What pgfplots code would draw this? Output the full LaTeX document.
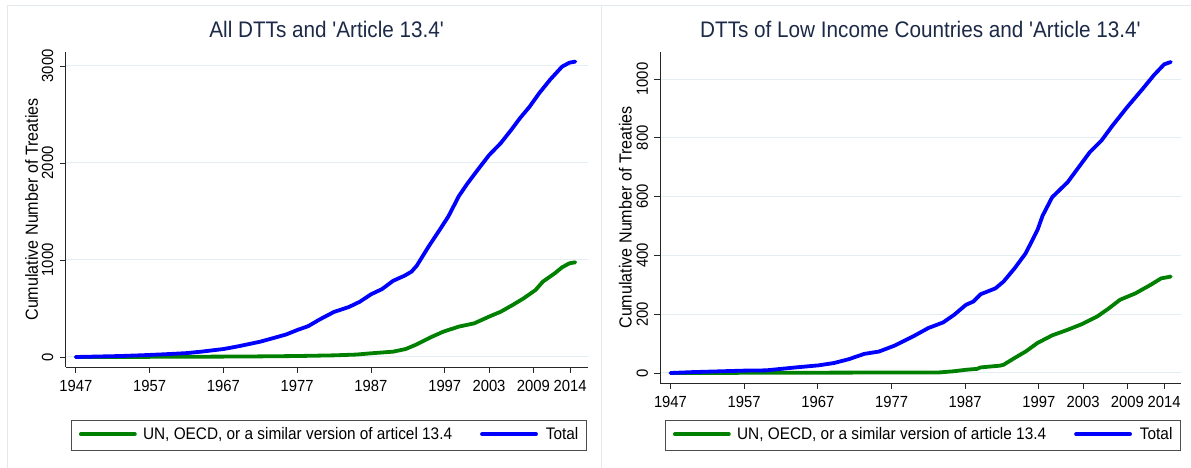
\documentclass[border=0pt]{standalone}
\usepackage{fontspec}
\setmainfont{Liberation Sans}[FakeStretch=0.92, Ligatures=TeXOff]
\usepackage{pgfplots}
\pgfplotsset{compat=1.18}

\definecolor{sgreen}{RGB}{0,128,0}
\definecolor{sblue}{RGB}{0,0,255}
\definecolor{titlec}{RGB}{28,42,72}
\definecolor{gridc}{RGB}{228,237,241}
\definecolor{framec}{RGB}{226,234,237}

\newcommand\ticksize{\fontsize{16.1bp}{19bp}\selectfont}
\newcommand\legsize{\fontsize{16.7bp}{19bp}\selectfont}
\newcommand\labsize{\fontsize{17.5bp}{20bp}\selectfont}
\newcommand\titlesize{\fontsize{22.5bp}{26bp}\selectfont}

\pgfplotsset{
  dtt/.style={
    scale only axis,
    anchor=south west,
    axis x line*=bottom, axis y line*=left,
    axis line style={-, black!85, line width=0.9bp},
    tick align=outside, major tick length=6bp,
    every tick/.style={black!85, line width=0.9bp},
    xmin=1945.64, xmax=2016.35,
    xtick={1947,1957,1967,1977,1987,1997,2003,2009,2014},
    xticklabels={1947,1957,1967,1977,1987,1997,2003,2009,2014},
    ymajorgrids, grid style={gridc, line width=1bp},
    xticklabel style={font=\ticksize, anchor=north, inner sep=0pt, yshift=-6.9bp},
    yticklabel style={font=\ticksize, xshift=-6.2bp, rotate=90, anchor=south, inner sep=0pt},
    title style={font=\titlesize, text=titlec, anchor=base, at={(0.5,1)}, yshift=8.7bp},
    ylabel style={font=\labsize, rotate=0, anchor=center},
    legend columns=2,
    legend cell align=left,
    legend image code/.code={\draw[#1] (0bp,5.3bp) -- (54bp,5.3bp);},
    legend style={anchor=north west, draw=black!70, line width=0.9bp, fill=white,
      inner xsep=7.7bp, inner ysep=7bp, font=\legsize,
      nodes={inner sep=0pt, text height=12bp, text depth=3.5bp, anchor=base west},
      /tikz/column 1/.style={column sep=6.3bp},
      /tikz/column 2/.style={column sep=28bp},
      /tikz/column 3/.style={column sep=8bp}},
    every axis plot/.append style={line width=3.8bp, line join=round, line cap=round},
  }
}

\begin{document}
\begin{tikzpicture}[x=1bp,y=1bp]
\useasboundingbox (0,0) rectangle (1191,468);
\fill[white] (0,0) rectangle (1191,468);
\draw[framec, line width=1bp] (7,0) |- (1191,462);
\draw[framec, line width=1bp] (601.7,0) -- (601.7,462);

% left panel: all treaties
\begin{axis}[dtt,
  at={(65.8bp,101bp)}, width=521.7bp, height=315bp,
  ymin=-103, ymax=3144,
  ytick={0,1000,2000,3000}, yticklabels={0,1000,2000,3000},
  title={All DTTs and 'Article 13.4'},
  ylabel={Cumulative Number of Treaties},
  ylabel style={at={(axis description cs:-0.0657,0.5)}},
  legend style={at={(axis description cs:0.0096,-0.1683)}},
]
\addplot[sgreen] coordinates {
 (1947,0)(1960,2)(1970,5)(1977,10)(1982,17)(1985,25)(1987,38)(1990,55)
 (1991.7,82)(1993.2,130)(1995.3,210)(1996.8,261)(1998.9,313)(2001,347)
 (2003,416)(2004.6,467)(2006.2,536)(2007.7,605)(2009.3,690)(2010.3,777)
 (2011.9,862)(2012.9,924)(2013.9,966)(2014.7,976)
};
\addlegendentry{UN, OECD, or a similar version of articel 13.4}
\addplot[sblue] coordinates {
 (1947,0)(1950,5)(1953,10)(1956,18)(1959,28)(1962,40)(1964,55)(1967,82)
 (1969,110)(1972,158)(1974,200)(1975.5,232)(1977,278)(1978.5,318)(1980,385)
 (1982,465)(1984,515)(1985.5,570)(1987,646)(1988.5,700)(1990,785)(1991.6,840)
 (1992.5,880)(1993.2,940)(1994.8,1137)(1996.3,1309)(1997.5,1450)(1998.9,1657)(2000,1780)
 (2001.5,1932)(2003,2080)(2004.6,2205)(2006,2340)(2007.2,2462)(2008.5,2580)
 (2009.8,2719)(2011.3,2860)(2012.9,2993)(2013.9,3034)(2014.7,3045)
};
\addlegendentry{Total}
\end{axis}

% right panel: low income countries
\begin{axis}[dtt,
  at={(660.3bp,85bp)}, width=520.2bp, height=331bp,
  xmin=1945.62, xmax=2016.22,
  ymin=-34, ymax=1092,
  ytick={0,200,400,600,800,1000}, yticklabels={0,200,400,600,800,1000},
  title={DTTs of Low Income Countries and 'Article 13.4'},
  ylabel={Cumulative Number of Treaties},
  ylabel style={at={(axis description cs:-0.0671,0.5)}},
  legend style={at={(axis description cs:0.0087,-0.1118)}},
]
\addplot[sgreen] coordinates {
 (1947,0)(1983.5,2)(1985.5,6)(1987.1,11)(1988.6,14)(1989.1,19)(1991.7,25)
 (1992.2,28)(1993.7,51)(1995.2,73)(1996.8,102)(1998.8,128)(2000.9,147)
 (2002.9,167)(2004.9,192)(2006.5,220)(2008,249)(2010.1,271)(2012.1,299)
 (2013.6,322)(2014.9,328)
};
\addlegendentry{UN, OECD, or a similar version of article 13.4}
\addplot[sblue] coordinates {
 (1947,0)(1950,3)(1956.9,8)(1960,9)(1962,14)(1964,19)(1967.1,26)(1969.2,34)
 (1971.2,47)(1973.3,65)(1975.3,73)(1977.4,93)(1979.9,124)(1982,153)(1984,172)
 (1985.5,198)(1987.1,232)(1988.1,243)(1989.1,268)(1991.1,288)(1992.2,311)
 (1993.7,356)(1995.2,407)(1996.8,486)(1997.5,535)(1998.8,598)(2000.9,649)
 (2002.4,700)(2003.9,751)(2005.5,791)(2007,842)(2009,905)(2011.1,967)
 (2012.6,1013)(2014,1050)(2014.9,1058)
};
\addlegendentry{Total}
\end{axis}
\end{tikzpicture}
\end{document}
